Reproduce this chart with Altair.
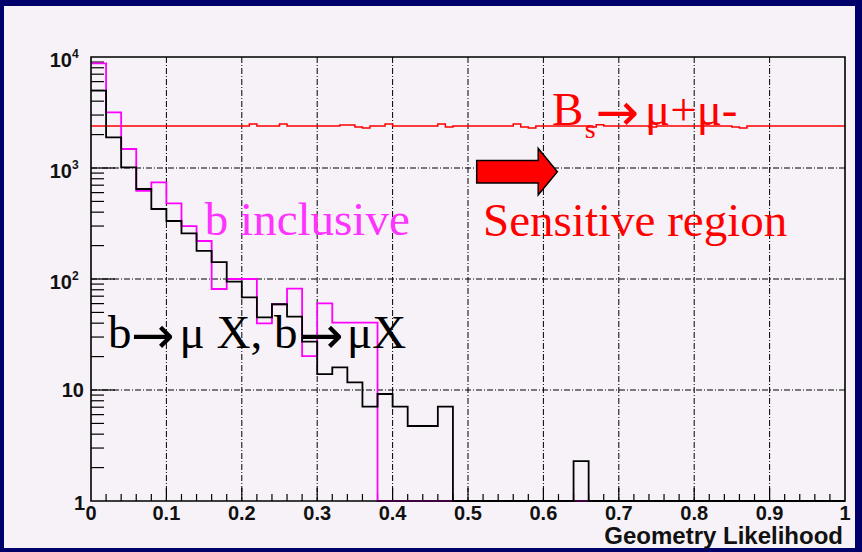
import altair as alt
import pandas as pd

# ---- histogram contents -------------------------------------------------
# background samples, 0.02-wide bins over [0, 1]
bmu_counts = [4970, 1890, 1015, 647, 427, 333, 258, 179, 142, 94.6,
              68.4, 45.2, 59.2, 45.8, 27.3, 13.9, 16.0, 11.7, 7.07, 9.2,
              7.07, 4.74, 4.74, 7.07, 0, 0, 0, 0, 0, 0,
              0, 0, 2.29, 0, 0, 0, 0, 0, 0, 0,
              0, 0, 0, 0, 0, 0, 0, 0, 0, 0]
binc_counts = [8770, 3175, 1483, 624, 743, 481, 300, 220, 81.3, 100,
               100, 39.9, 59.2, 81.8, 20.2, 60.4, 40.4, 40.4, 40.4, 0,
               0, 0, 0, 0, 0, 0, 0, 0, 0, 0,
               0, 0, 0, 0, 0, 0, 0, 0, 0, 0,
               0, 0, 0, 0, 0, 0, 0, 0, 0, 0]
# signal sample, 0.01-wide bins over [0, 1]
bs_counts = [2390, 2390, 2390, 2390, 2390, 2390, 2390, 2390, 2390, 2390,
             2390, 2390, 2390, 2390, 2390, 2390, 2390, 2390, 2390, 2390,
             2390, 2490, 2390, 2390, 2390, 2490, 2390, 2390, 2390, 2390,
             2390, 2390, 2390, 2440, 2440, 2340, 2290, 2390, 2390, 2490,
             2390, 2390, 2390, 2390, 2390, 2390, 2490, 2340, 2390, 2390,
             2390, 2390, 2390, 2390, 2390, 2390, 2490, 2340, 2290, 2390,
             2390, 2390, 2390, 2390, 2390, 2390, 2340, 2450, 2390, 2390,
             2390, 2390, 2390, 2390, 2340, 2390, 2390, 2390, 2390, 2390,
             2390, 2390, 2390, 2390, 2390, 2340, 2290, 2390, 2390, 2390,
             2390, 2390, 2390, 2390, 2390, 2390, 2390, 2390, 2390, 2390]

# ---- axis definitions ---------------------------------------------------
x_tick_values = [0, 0.1, 0.2, 0.3, 0.4, 0.5, 0.6, 0.7, 0.8, 0.9, 1.0]
x_tick_labels = ["0", "0.1", "0.2", "0.3", "0.4", "0.5", "0.6", "0.7", "0.8", "0.9", "1"]
x_grid_values = [0.1, 0.2, 0.3, 0.4, 0.5, 0.6, 0.7, 0.8, 0.9]
x_minor_values = [0.02, 0.04, 0.06, 0.08, 0.12, 0.14, 0.16, 0.18, 0.22, 0.24,
                  0.26, 0.28, 0.32, 0.34, 0.36, 0.38, 0.42, 0.44, 0.46, 0.48,
                  0.52, 0.54, 0.56, 0.58, 0.62, 0.64, 0.66, 0.68, 0.72, 0.74,
                  0.76, 0.78, 0.82, 0.84, 0.86, 0.88, 0.92, 0.94, 0.96, 0.98]
y_grid_values = [10, 100, 1000]
y_minor_mantissas = [2, 3, 4, 5, 6, 7, 8, 9]
y_decades = [1, 10, 100, 1000]
y_pow_values = [10000, 1000, 100]
y_pow_exponents = ["4", "3", "2"]

X_TITLE = "Geometry Likelihood"

W, H = 754, 444
NAVY = "#00006b"
PANEL = "#f7f2f7"
SANS = "Liberation Sans"
SERIF = "Liberation Serif"
ARROW_FONT = "DejaVu Sans"

xs = alt.Scale(domain=[0, 1], nice=False, zero=False)
ys = alt.Scale(type="log", domain=[1, 10000], nice=False)


def step_frame(counts, width):
    edges = [round(i * width, 4) for i in range(len(counts) + 1)]
    vals = list(counts) + [counts[-1]]
    # empty bins sit on the axis floor of the log scale
    return pd.DataFrame({"x": edges, "y": [max(v, 1) for v in vals]})


def step_line(counts, width, color, sw=1.6):
    return alt.Chart(step_frame(counts, width)).mark_line(
        interpolate="step-after", color=color, strokeWidth=sw
    ).encode(
        x=alt.X("x:Q", scale=xs, axis=None),
        y=alt.Y("y:Q", scale=ys, axis=None),
    )


# page panel inside the dark frame
panel = alt.Chart(pd.DataFrame({"k": [0]})).mark_rect(fill=PANEL, stroke=None).encode(
    x=alt.value(-87), x2=alt.value(764), y=alt.value(-51), y2=alt.value(491)
)

dash = [6, 2, 1, 2]
xgrid = alt.Chart(pd.DataFrame({"x": x_grid_values})).mark_rule(
    color="black", strokeWidth=1, strokeDash=dash
).encode(x=alt.X("x:Q", scale=xs, axis=None), y=alt.value(0), y2=alt.value(H))
ygrid = alt.Chart(pd.DataFrame({"y": y_grid_values})).mark_rule(
    color="black", strokeWidth=1, strokeDash=dash
).encode(y=alt.Y("y:Q", scale=ys, axis=None), x=alt.value(0), x2=alt.value(W))

# ticks pointing into the frame
y_minor = [m * d for d in y_decades for m in y_minor_mantissas]
yminor = alt.Chart(pd.DataFrame({"y": y_minor})).mark_rule(color="black", strokeWidth=1.2).encode(
    y=alt.Y("y:Q", scale=ys, axis=None), x=alt.value(0), x2=alt.value(13))
ymajor = alt.Chart(pd.DataFrame({"y": y_grid_values})).mark_rule(color="black", strokeWidth=1.2).encode(
    y=alt.Y("y:Q", scale=ys, axis=None), x=alt.value(0), x2=alt.value(24))
xminor = alt.Chart(pd.DataFrame({"x": x_minor_values})).mark_rule(color="black", strokeWidth=1.2).encode(
    x=alt.X("x:Q", scale=xs, axis=None), y=alt.value(H), y2=alt.value(H - 7))
xmajor = alt.Chart(pd.DataFrame({"x": x_grid_values})).mark_rule(color="black", strokeWidth=1.2).encode(
    x=alt.X("x:Q", scale=xs, axis=None), y=alt.value(H), y2=alt.value(H - 13))

# frame
frame = alt.Chart(pd.DataFrame({"k": [0]})).mark_rect(
    fill=None, stroke="black", strokeWidth=1.6
).encode(x=alt.value(0), x2=alt.value(W), y=alt.value(0), y2=alt.value(H))

# tick labels
lab = dict(font=SANS, fontWeight="bold", fontSize=20, color="#111111")
xlabels = alt.Chart(pd.DataFrame({"x": x_tick_values, "t": x_tick_labels})).mark_text(
    align="center", baseline="middle", **lab
).encode(x=alt.X("x:Q", scale=xs, axis=None), y=alt.value(H + 13), text="t:N")

pow_df = pd.DataFrame({"y": y_pow_values, "e": y_pow_exponents, "b": ["10"] * 3})
ylab_pow = alt.Chart(pow_df).mark_text(align="right", baseline="middle", dy=4, **lab).encode(
    y=alt.Y("y:Q", scale=ys, axis=None), x=alt.value(-19), text="b:N")
ylab_exp = alt.Chart(pow_df).mark_text(
    align="left", baseline="middle", dy=-3, font=SANS, fontWeight="bold", fontSize=12, color="#111111"
).encode(y=alt.Y("y:Q", scale=ys, axis=None), x=alt.value(-19), text="e:N")
ylab_10 = alt.Chart(pd.DataFrame({"y": [10], "t": ["10"]})).mark_text(
    align="right", baseline="middle", dy=1, **lab
).encode(y=alt.Y("y:Q", scale=ys, axis=None), x=alt.value(-7), text="t:N")
ylab_1 = alt.Chart(pd.DataFrame({"y": [1], "t": ["1"]})).mark_text(
    align="right", baseline="middle", dy=3, **lab
).encode(y=alt.Y("y:Q", scale=ys, axis=None), x=alt.value(-6), text="t:N")

xtitle = alt.Chart(pd.DataFrame({"t": [X_TITLE]})).mark_text(
    align="right", baseline="alphabetic", font=SANS, fontWeight="bold", fontSize=24, color="#111111"
).encode(x=alt.value(W - 2), y=alt.value(H + 43), text="t:N")

# histograms
h_bs = step_line(bs_counts, 0.01, "#ff0000", 1.5)
h_binc = step_line(binc_counts, 0.02, "#ff00ff", 1.8)
h_bmu = step_line(bmu_counts, 0.02, "#000000", 1.8)


def note(text, x, y, color, size=47, font=SERIF, dy=0):
    return alt.Chart(pd.DataFrame({"t": [text]})).mark_text(
        align="left", baseline="alphabetic", font=font, fontSize=size, color=color, dy=dy
    ).encode(x=alt.X(datum=x, scale=xs, axis=None), y=alt.Y(datum=y, scale=ys, axis=None), text="t:N")


def arrow_glyph(x, y, color):
    return note("→", x, y, color, size=52, font=ARROW_FONT, dy=5)


n_binc = note("b inclusive", 0.151, 249, "#ff33ff")
n_sens = note("Sensitive region", 0.52, 244, "#ff0000")

# b→μ X, b→μX
n_b1 = note("b", 0.0225, 23.9, "#000000")
n_a1 = arrow_glyph(0.0530, 23.9, "#000000")
n_m1 = note("μ X, b", 0.1175, 23.9, "#000000")
n_a2 = arrow_glyph(0.2772, 23.9, "#000000")
n_m2 = note("μX", 0.3395, 23.9, "#000000")

# Bs→μ+μ-
n_B = note("B", 0.6114, 2440, "#ff0000")
n_s = note("s", 0.655, 1862, "#ff0000", size=28)
n_a3 = arrow_glyph(0.669, 2440, "#ff0000")
n_mm = note("μ+μ-", 0.7347, 2440, "#ff0000")

# block arrow pointing into the sensitive region
ARROW = "M -1 -0.28 L 0.526 -0.28 L 0.526 -0.578 L 1 0 L 0.526 0.575 L 0.526 0.28 L -1 0.28 Z"
arrow = alt.Chart(pd.DataFrame({"k": [0]})).mark_point(
    shape=ARROW, size=6500, filled=True, fill="#ff0000", stroke="#000000",
    strokeWidth=1.5, opacity=1, fillOpacity=1
).encode(x=alt.X(datum=0.565, scale=xs, axis=None), y=alt.Y(datum=926, scale=ys, axis=None))

chart = alt.layer(
    panel, xgrid, ygrid, yminor, ymajor, xminor, xmajor,
    h_bs, h_binc, h_bmu, frame,
    xlabels, ylab_pow, ylab_exp, ylab_10, ylab_1, xtitle,
    n_binc, n_sens, n_b1, n_a1, n_m1, n_a2, n_m2,
    n_B, n_s, n_a3, n_mm, arrow,
).properties(
    width=W, height=H,
    padding={"left": 91, "top": 57, "right": 17, "bottom": 51},
    autosize=alt.AutoSizeParams(type="none"),
    background=NAVY,
).configure_view(stroke=None)

chart.save("out.html", embed_options={"renderer": "svg", "actions": False})
